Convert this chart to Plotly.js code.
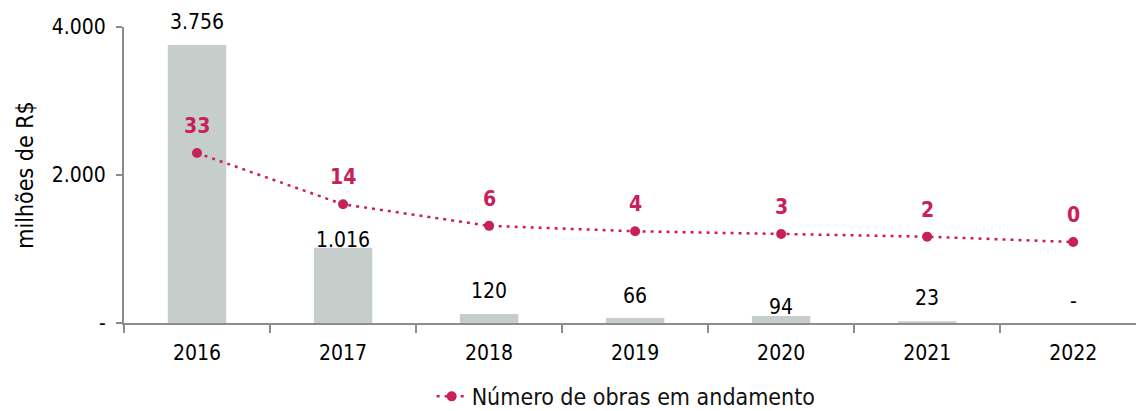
<!DOCTYPE html>
<html>
<head>
<meta charset="utf-8">
<script src="https://cdn.plot.ly/plotly-3.0.1.min.js"></script>
<style>html,body{margin:0;padding:0;background:#fff;}#chart{width:1136px;height:411px;}</style>
</head>
<body>
<div id="chart"></div>
<script>
// Data
const years = ['2016', '2017', '2018', '2019', '2020', '2021', '2022'];
const valoresMilhoes = [3756, 1016, 120, 66, 94, 23, 0];
const valorLabels = ['3.756', '1.016', '120', '66', '94', '23', '-'];
const obrasAndamento = [33, 14, 6, 4, 3, 2, 0];
const yTickVals = [0, 2000, 4000];
const yTickText = ['-', '2.000', '4.000'];
const serieNome = 'Número de obras em andamento';

// Styling (label offsets in px, not data)
const barLabelGap = [9, -6, 9, 8, -5, 9, 8];
const FONT = "'DejaVu Sans Condensed', 'DejaVu Sans', sans-serif";
const PINK = '#c8205a';
const BAR = '#c6cecc';
const AXIS = '#8c8c8c';

const traces = [
  {
    type: 'bar', x: years, y: valoresMilhoes, marker: {color: BAR},
    width: 0.4, hoverinfo: 'skip', showlegend: false
  },
  {
    type: 'scatter', mode: 'lines+markers', x: years, y: obrasAndamento, yaxis: 'y2',
    name: serieNome,
    line: {color: PINK, width: 2.5, dash: '3px,5px'},
    marker: {color: PINK, size: 10}
  }
];

const annotations = [];
years.forEach((yr, i) => {
  annotations.push({
    x: i, y: valoresMilhoes[i], xref: 'x', yref: 'y', text: valorLabels[i],
    showarrow: false, yanchor: 'bottom', yshift: barLabelGap[i],
    font: {family: FONT, size: 21, color: '#000'}
  });
  annotations.push({
    x: i, y: obrasAndamento[i], xref: 'x', yref: 'y2', text: '<b>' + obrasAndamento[i] + '</b>',
    showarrow: false, yanchor: 'middle', yshift: 27,
    font: {family: FONT, size: 21, color: PINK}
  });
});

const layout = {
  width: 1136, height: 411,
  margin: {l: 124, r: 0, t: 27, b: 88, autoexpand: false},
  paper_bgcolor: '#fff', plot_bgcolor: '#fff',
  font: {family: FONT, size: 21, color: '#000'},
  showlegend: true,
  legend: {orientation: 'h', x: 0.304, xanchor: 'left', y: -0.248, yanchor: 'middle',
           font: {family: FONT, size: 23, color: '#111'}},
  xaxis: {
    type: 'category', range: [-0.5, 6.43], showline: true, linecolor: AXIS, linewidth: 2,
    ticks: 'outside', tickson: 'boundaries', ticklen: 8, tickcolor: AXIS, tickwidth: 2,
    showgrid: false, zeroline: false, fixedrange: true, tickangle: 0, automargin: false,
    ticklabelstandoff: 10,
    tickfont: {family: FONT, size: 21, color: '#000'}
  },
  yaxis: {
    range: [0, 4000], tickvals: yTickVals, ticktext: yTickText, automargin: false,
    showline: true, linecolor: AXIS, linewidth: 2, ticks: 'outside', ticklen: 6,
    tickcolor: AXIS, tickwidth: 2, showgrid: false, zeroline: false,
    ticklabelstandoff: 6,
    title: {text: 'milhões de R$', font: {family: FONT, size: 23, color: '#000'}, standoff: 12},
    tickfont: {family: FONT, size: 21, color: '#000'}
  },
  yaxis2: {overlaying: 'y', side: 'right', range: [-30, 79.7], visible: false, showgrid: false, zeroline: false, automargin: false},
  annotations: annotations
};

Plotly.newPlot('chart', traces, layout, {displayModeBar: false, staticPlot: true});
</script>
</body>
</html>
